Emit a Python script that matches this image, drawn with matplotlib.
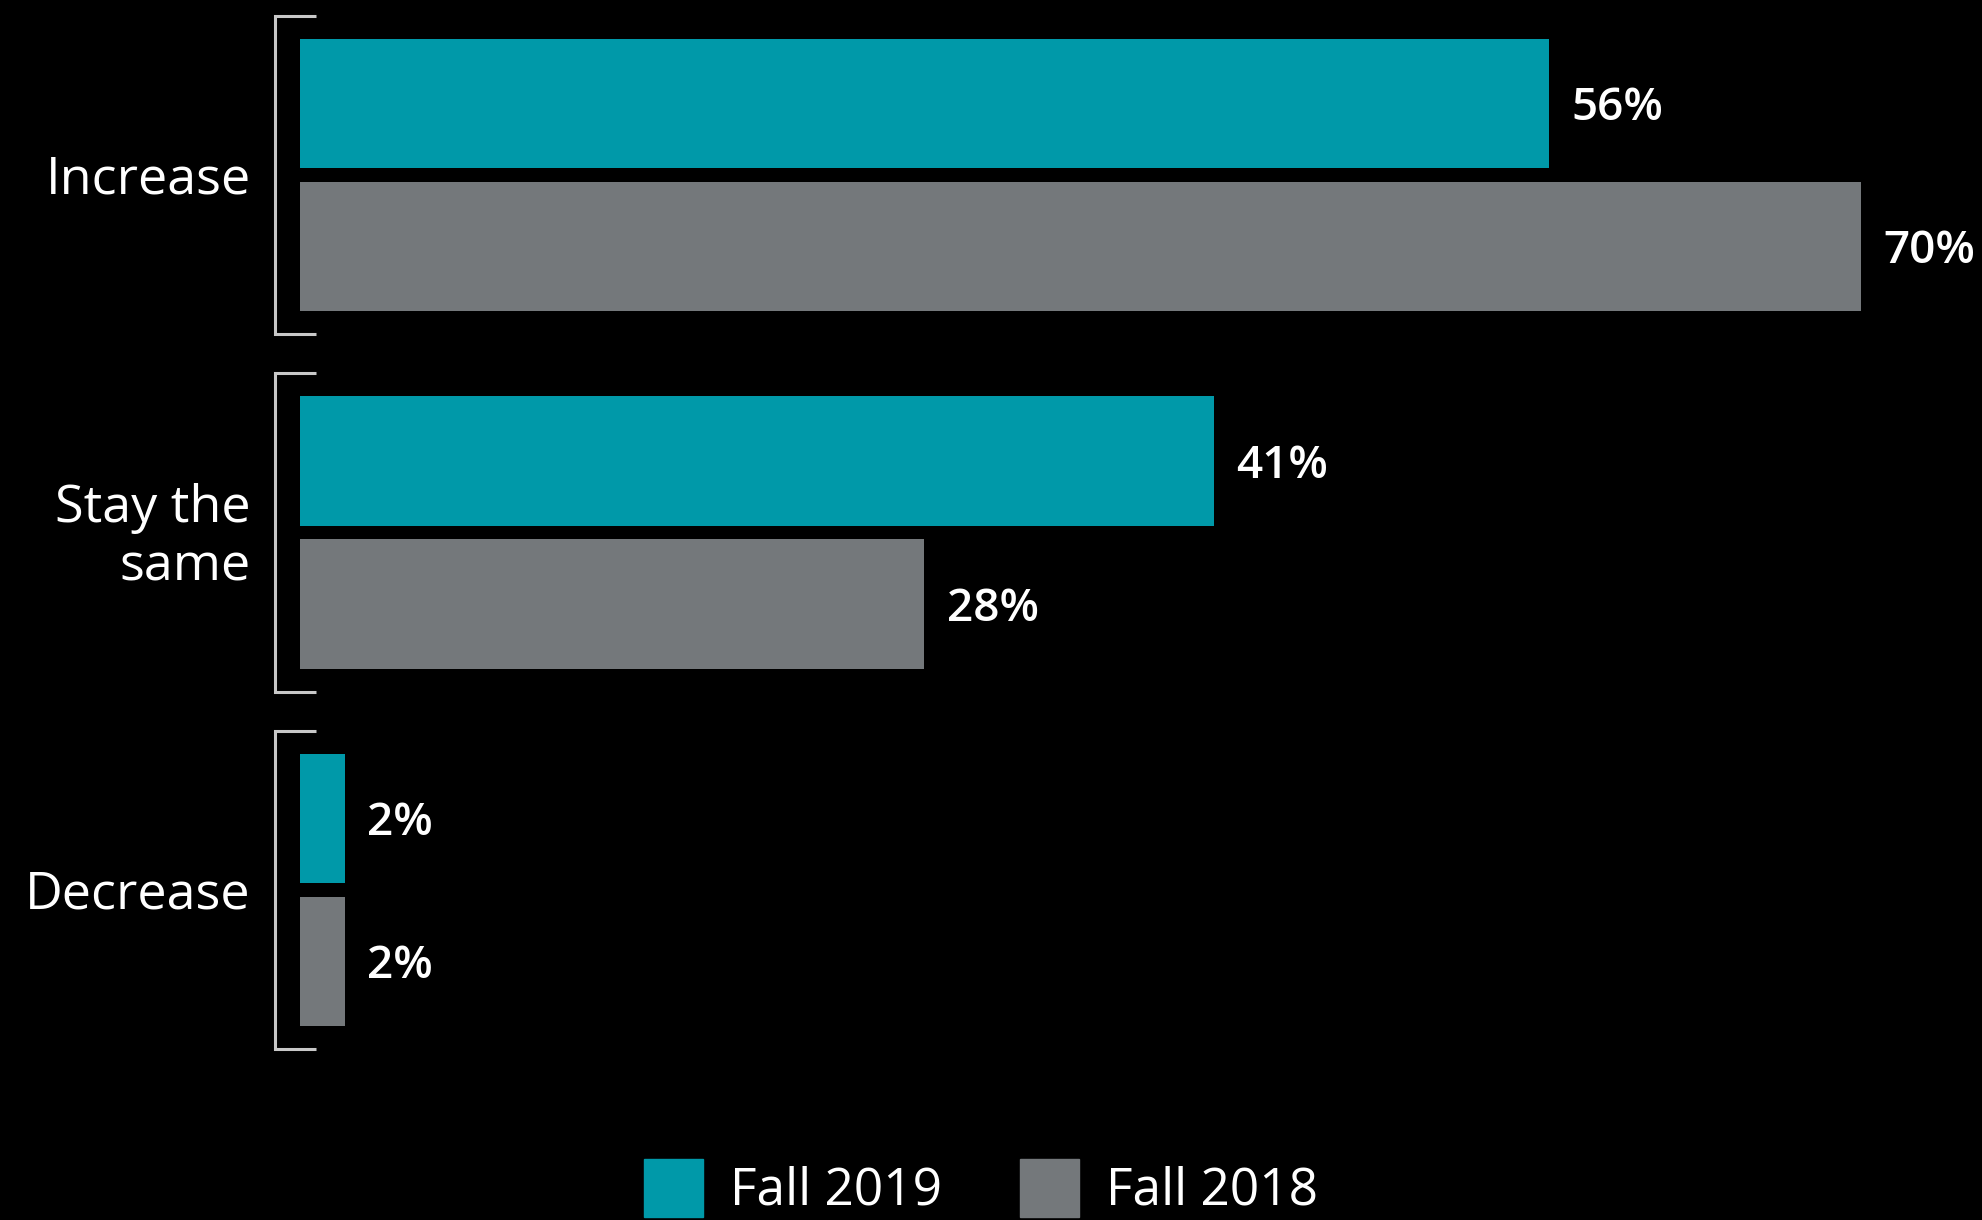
import matplotlib.pyplot as plt
from matplotlib.patches import Patch

# chart data
categories = ['Increase', 'Stay the\nsame', 'Decrease']
fall_2019 = [56, 41, 2]
fall_2018 = [70, 28, 2]
series_names = ['Fall 2019', 'Fall 2018']

teal = '#0099a9'
gray = '#74787b'
bracket_color = '#c8c8c8'

plt.rcParams['font.family'] = ['Open Sans', 'DejaVu Sans']

fig = plt.figure(figsize=(19.82, 12.2), dpi=100, facecolor='black')
# x=0 sits at 300 px, 22.3 px per percent point
ax = fig.add_axes([300 / 1982, 0, 75 * 22.3 / 1982, 1])
ax.set_facecolor('black')
ax.set_xlim(0, 75)
ax.set_ylim(2.923, -0.4895)
ax.axis('off')

bar_h = 0.361
offset = 0.2
nudge = 0.014  # small downward shift for text centring
ys = list(range(len(categories)))

ax.barh([y - offset for y in ys], fall_2019, height=bar_h, color=teal)
ax.barh([y + offset for y in ys], fall_2018, height=bar_h, color=gray)

# value labels
for y, v in zip(ys, fall_2019):
    ax.text(v + 1.0, y - offset + nudge, f'{v}%', color='white', fontsize=33,
            fontweight='semibold', va='center', ha='left')
for y, v in zip(ys, fall_2018):
    ax.text(v + 1.0, y + offset + nudge, f'{v}%', color='white', fontsize=33,
            fontweight='semibold', va='center', ha='left')

# brackets and category labels
for y, name in zip(ys, categories):
    top, bot = y - 0.445, y + 0.445
    ax.plot([0.72, -1.12, -1.12, 0.72], [top, top, bot, bot],
            color=bracket_color, lw=2.2, clip_on=False,
            solid_capstyle='butt', solid_joinstyle='miter')
    ax.text(-2.2, y + nudge, name, color='white', fontsize=37.5, ha='right',
            va='center', linespacing=1.2)

handles = [Patch(color=teal), Patch(color=gray)]
leg = fig.legend(handles, series_names, loc='center',
                 bbox_to_anchor=(981 / 1982, 1 - 1188 / 1220), ncol=2,
                 frameon=False, fontsize=37, handlelength=1.15,
                 handleheight=1.35, handletextpad=0.54, columnspacing=1.5,
                 borderpad=0, borderaxespad=0)
for t in leg.get_texts():
    t.set_color('white')

fig.savefig('out.png', dpi=100, facecolor='black')
